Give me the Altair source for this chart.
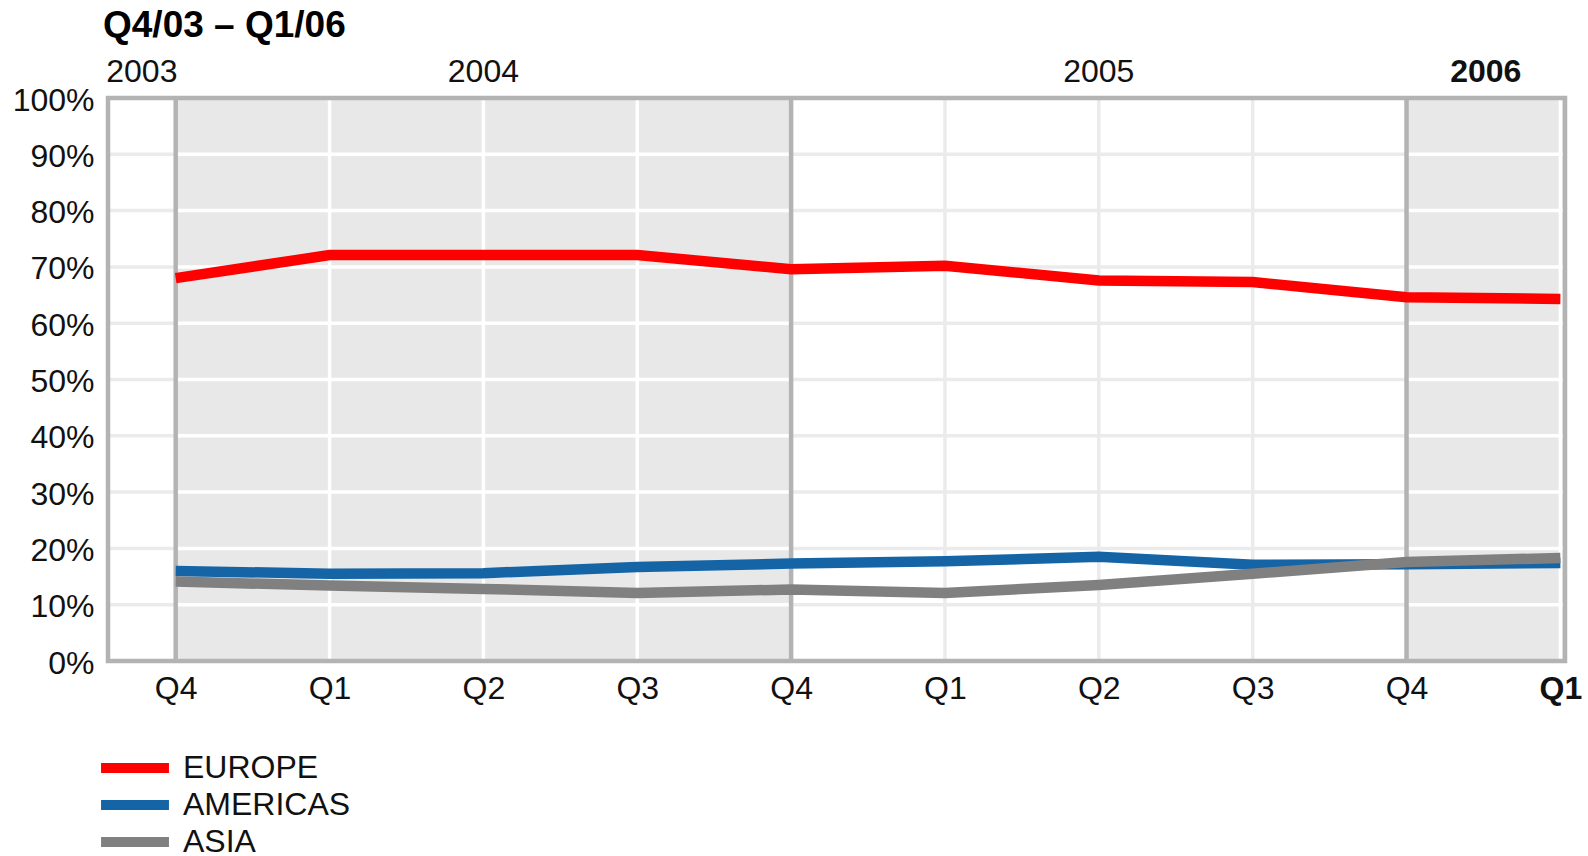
import json
import altair as alt
import pandas as pd

# ---- data -----------------------------------------------------------
quarters = ["Q4", "Q1", "Q2", "Q3", "Q4", "Q1", "Q2", "Q3", "Q4", "Q1"]
quarter_bold = [False] * 9 + [True]
years = ["2003", "2004", "2005", "2006"]
year_bold = [False, False, False, True]
year_shaded = [False, True, False, True]

series = ["EUROPE", "AMERICAS", "ASIA"]
colors = ["#ff0000", "#1565a6", "#808080"]
europe = [68.0, 72.1, 72.1, 72.1, 69.6, 70.2, 67.6, 67.3, 64.6, 64.3]
americas = [16.0, 15.5, 15.6, 16.7, 17.3, 17.7, 18.5, 17.1, 17.2, 17.4]
asia = [14.1, 13.4, 12.8, 12.1, 12.7, 12.1, 13.5, 15.5, 17.6, 18.3]

y_ticks = list(range(0, 101, 10))
title_text = "Q4/03 – Q1/06"

# ---- layout constants ---------------------------------------------
W, H = 1457, 563
x_min, x_max = -0.44, 9.03
year_bounds = [x_min, 0, 4, 8, x_max]
FONT = "Liberation Sans"
LIGHT = "#ebebeb"
SHADE = "#e8e8e8"
DARK = "#b3b3b3"
TXT = "#111111"

# ---- tables ---------------------------------------------------------
rows = []
for s, vals in zip(series, [europe, americas, asia]):
    for i, v in enumerate(vals):
        rows.append({"idx": i, "share": v, "region": s})
lines_df = pd.DataFrame(rows)

shade_df = pd.DataFrame(
    [{"x0": year_bounds[k], "x1": year_bounds[k + 1]} for k in range(4) if year_shaded[k]]
)

hgrid = []
for t in y_ticks[1:-1]:
    for k in range(4):
        hgrid.append({"y": t, "x0": year_bounds[k], "x1": year_bounds[k + 1],
                      "c": "#ffffff" if year_shaded[k] else LIGHT})
hgrid_df = pd.DataFrame(hgrid)

vgrid = []
for i, q in enumerate(quarters):
    if q == "Q4":
        vgrid.append({"x": i, "c": DARK, "w": 4.5})
    else:
        k = max(j for j in range(4) if year_bounds[j] <= i)
        vgrid.append({"x": i, "c": "#ffffff" if year_shaded[k] else LIGHT, "w": 3.5})
vgrid_df = pd.DataFrame(vgrid)

year_df = pd.DataFrame({
    "year": years,
    "mid": [(year_bounds[k] + year_bounds[k + 1]) / 2 for k in range(4)],
    "bold": year_bold,
})

frame_df = pd.DataFrame({"x0": [x_min], "x1": [x_max], "y0": [0], "y1": [100]})

# ---- scales & axes --------------------------------------------------
xs = alt.Scale(domain=[x_min, x_max], nice=False, zero=False)
ys = alt.Scale(domain=[0, 100], nice=False)

x_axis = alt.Axis(
    values=list(range(len(quarters))),
    labelExpr=json.dumps(quarters) + "[datum.value]",
    labelFontWeight={"condition": {"test": "datum.value == %d" % quarter_bold.index(True),
                                   "value": "bold"}, "value": "normal"},
    grid=False, ticks=False, domain=False, title=None,
    labelFontSize=32, labelFont=FONT, labelColor=TXT, labelPadding=12,
    labelFlush=False, labelOverlap=False,
)
y_axis = alt.Axis(
    values=y_ticks, labelExpr="datum.value + '%'",
    grid=False, ticks=False, domain=False, title=None,
    labelFontSize=32, labelFont=FONT, labelColor=TXT, labelPadding=14,
    labelBaseline="middle", labelOffset=2, labelFlush=False, labelOverlap=False,
)

shade = alt.Chart(shade_df).mark_rect(color=SHADE).encode(
    x=alt.X("x0:Q", scale=xs, axis=x_axis), x2="x1:Q",
    y=alt.Y(datum=0, scale=ys, axis=y_axis), y2=alt.datum(100),
)

hg = alt.Chart(hgrid_df).mark_rule(strokeWidth=3.5).encode(
    x=alt.X("x0:Q", scale=xs, axis=x_axis), x2="x1:Q",
    y=alt.Y("y:Q", scale=ys, axis=y_axis),
    color=alt.Color("c:N", scale=None),
)

vg = alt.Chart(vgrid_df).mark_rule().encode(
    x=alt.X("x:Q", scale=xs, axis=x_axis),
    color=alt.Color("c:N", scale=None),
    strokeWidth=alt.StrokeWidth("w:Q", scale=None),
)

lines = alt.Chart(lines_df).mark_line(strokeWidth=10.5).encode(
    x=alt.X("idx:Q", scale=xs, axis=x_axis),
    y=alt.Y("share:Q", scale=ys, axis=y_axis),
    color=alt.Color(
        "region:N",
        scale=alt.Scale(domain=series, range=colors),
        sort=series,
        legend=alt.Legend(
            title=None, orient="none", legendX=10, legendY=653,
            symbolType="M-2.83,0H2.83", symbolSize=576, symbolStrokeWidth=10,
            labelFontSize=32, labelFont=FONT, labelColor=TXT, labelOffset=31,
            labelLimit=0, rowPadding=-6, padding=0,
        ),
    ),
    order=alt.Order("idx:Q"),
)

frame = alt.Chart(frame_df).mark_rect(filled=False, stroke=DARK, strokeWidth=4.5, fill=None).encode(
    x=alt.X("x0:Q", scale=xs, axis=x_axis), x2="x1:Q",
    y=alt.Y("y0:Q", scale=ys, axis=y_axis), y2="y1:Q",
)

year_normal = alt.Chart(year_df).transform_filter("!datum.bold").mark_text(
    fontSize=32, font=FONT, color=TXT, baseline="alphabetic", align="center"
).encode(x=alt.X("mid:Q", scale=xs, axis=x_axis), y=alt.value(-16), text="year:N")

year_b = alt.Chart(year_df).transform_filter("datum.bold").mark_text(
    fontSize=32, font=FONT, color=TXT, baseline="alphabetic", align="center", fontWeight="bold"
).encode(x=alt.X("mid:Q", scale=xs, axis=x_axis), y=alt.value(-16), text="year:N")

chart = alt.layer(shade, hg, vg, lines, frame, year_normal, year_b).properties(
    width=W, height=H,
    autosize=alt.AutoSizeParams(type="none"),
    padding={"left": 108, "top": 98, "right": 23, "bottom": 195},
    title=alt.Title(title_text, anchor="start", frame="group", fontSize=37,
                    fontWeight="bold", font=FONT, color="#000000", offset=11, dx=-5),
).configure_view(stroke=None).configure(background="white")

chart.save("out.html", embed_options={"renderer": "svg", "actions": False})
